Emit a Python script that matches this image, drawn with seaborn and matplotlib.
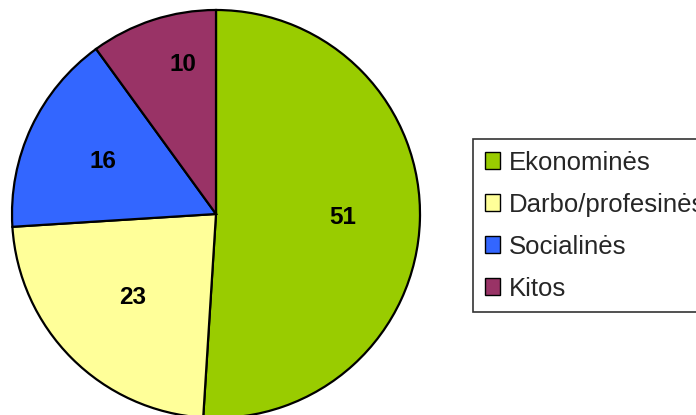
import matplotlib
matplotlib.use("Agg")
import matplotlib.pyplot as plt
import seaborn as sns
import numpy as np
from matplotlib.patches import Patch

# duomenys
categories = ["Ekonominės", "Darbo/profesinės", "Socialinės", "Kitos"]
values = [51, 23, 16, 10]
colors = ["#99CC00", "#FFFF99", "#3366FF", "#993366"]
label_dist = [0.62, 0.58, 0.61, 0.75]
label_shift = [0, 0, 0, -5.5]  # laipsniais

sns.set_theme(style="white")
plt.rcParams["font.family"] = ["Liberation Sans", "DejaVu Sans"]

fig = plt.figure(figsize=(6.96, 4.15), dpi=100)
ax = fig.add_axes([12 / 696, -3 / 415, 408 / 696, 408 / 415])

wedges, _ = ax.pie(values, colors=colors, startangle=90, counterclock=False,
                   wedgeprops={"edgecolor": "black", "linewidth": 1.6})
ax.set_xlim(-1.0, 1.0)
ax.set_ylim(-1.0, 1.0)
ax.set_aspect("equal")
ax.axis("off")

# etiketės ant sektorių
for w, v, d, s in zip(wedges, values, label_dist, label_shift):
    ang = np.deg2rad((w.theta1 + w.theta2) / 2 + s)
    ax.text(d * np.cos(ang), d * np.sin(ang), str(v), ha="center", va="center",
            fontsize=17.5, fontweight="bold", color="black")

handles = [Patch(facecolor=c, edgecolor="black", linewidth=1) for c in colors]
leg = fig.legend(handles, categories, loc="upper left",
                 bbox_to_anchor=(473 / 696, 1 - 139 / 415),
                 fontsize=18.5, frameon=True, fancybox=False,
                 handlelength=0.6, handleheight=0.6, handletextpad=0.35,
                 labelspacing=0.7, borderpad=0.45, borderaxespad=0)
leg.get_frame().set_edgecolor("black")
leg.get_frame().set_linewidth(1.2)

fig.savefig("out.png", dpi=100)
